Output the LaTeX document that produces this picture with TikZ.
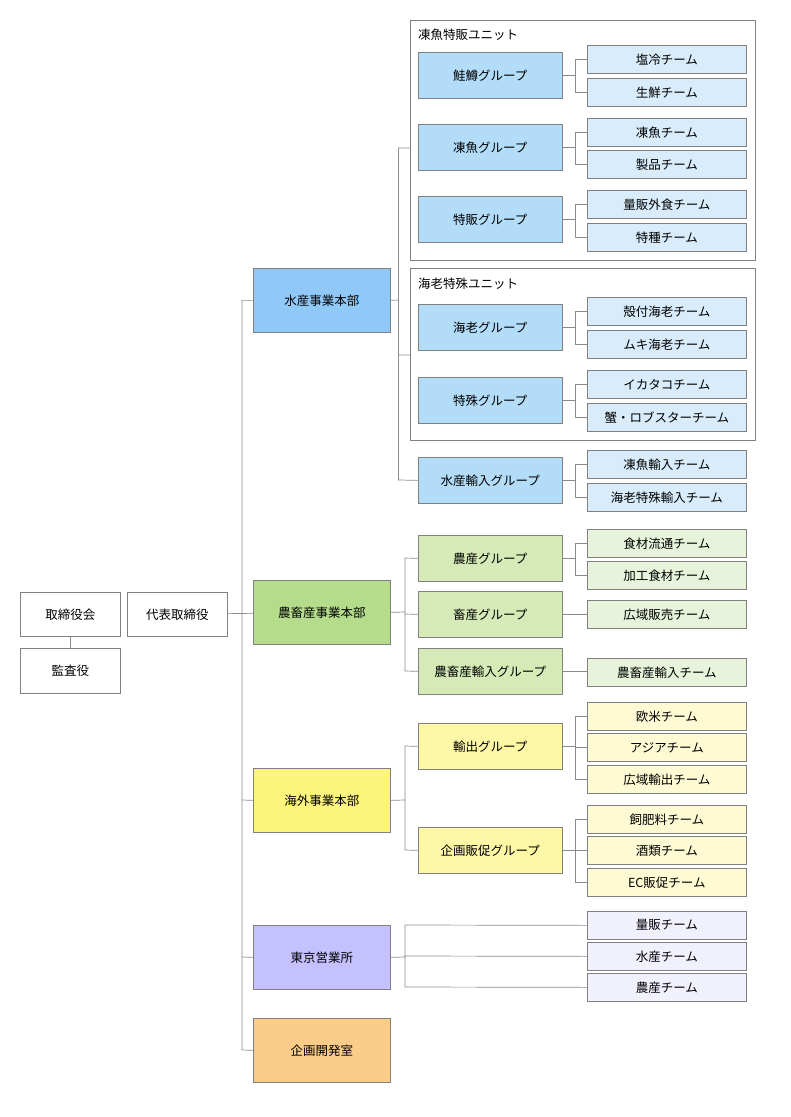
\documentclass[tikz,border=0pt]{standalone}
\usepackage{fontspec}
\setmainfont{Noto Sans CJK JP}
\begin{document}
\begin{tikzpicture}[x=1pt,y=-1pt,
 bx/.style={draw=black!50,line width=0.7pt,font=\fontsize{12.5}{14}\selectfont,inner sep=0pt},
 ln/.style={draw=black!45,line width=0.7pt}]
\definecolor{bD}{HTML}{90C9F8}\definecolor{bG}{HTML}{B3DCF8}\definecolor{bT}{HTML}{D8ECFB}
\definecolor{gD}{HTML}{B5DC8A}\definecolor{gG}{HTML}{D5EAB6}\definecolor{gT}{HTML}{E7F3DA}
\definecolor{yD}{HTML}{FCF47C}\definecolor{yG}{HTML}{FDF7A6}\definecolor{yT}{HTML}{FEFBD4}
\definecolor{lD}{HTML}{C5C0FF}\definecolor{lT}{HTML}{F1F1FE}\definecolor{oD}{HTML}{FCCD88}
\useasboundingbox[fill=white] (0,0) rectangle (791,1117);
\newcommand\bx[6]{\node[bx,fill=#6,minimum width=#3-#2,minimum height=#5-#4,anchor=north west] (#1) at (#2,#4) {\strut};
 }
% top
\node[bx,fill=white,minimum width=100,minimum height=44,anchor=north west] (board) at (20,592) {取締役会};
\node[bx,fill=white,minimum width=100,minimum height=45,anchor=north west] (audit) at (20,648) {監査役};
\node[bx,fill=white,minimum width=100,minimum height=44,anchor=north west] (ceo) at (127,592) {代表取締役};
\draw[ln] (board) -- (audit);
% unit frames
\node[draw=black!50,line width=0.7pt,minimum width=345,minimum height=240,anchor=north west] (u1) at (410,20) {};
\node[anchor=north west,font=\fontsize{12.5}{14}\selectfont,inner sep=0pt] (u1l) at (418,29) {凍魚特販ユニット};
\node[draw=black!50,line width=0.7pt,minimum width=345,minimum height=172,anchor=north west] (u2) at (410,268) {};
\node[anchor=north west,font=\fontsize{12.5}{14}\selectfont,inner sep=0pt] (u2l) at (418,278) {海老特殊ユニット};
% divisions
\foreach \n/\t/\y/\c in {d1/水産事業本部/268/bD,d2/農畜産事業本部/580/gD,d3/海外事業本部/768/yD,d4/東京営業所/925/lD,d5/企画開発室/1018/oD}
 \node[bx,fill=\c,minimum width=137,minimum height=64,anchor=north west] (\n) at (253,\y) {\t};
\draw[ln] (ceo) -- (d2);
\draw[ln] (d1.west) -| (242,1050) -- (d5.west);
\draw[ln] (d3.west) -- (242,800) (d4.west) -- (242,957);
% groups
\foreach \n/\t/\y/\c in {g1/鮭鱒グループ/52/bG,g2/凍魚グループ/124/bG,g3/特販グループ/196/bG,g4/海老グループ/304/bG,g5/特殊グループ/377/bG,g6/水産輸入グループ/457/bG,
 g7/農産グループ/535/gG,g8/畜産グループ/591/gG,g9/農畜産輸入グループ/648/gG,g10/輸出グループ/723/yG,g11/企画販促グループ/827/yG}
 \node[bx,fill=\c,minimum width=144,minimum height=46,anchor=north west] (\n) at (418,\y) {\t};
% teams
\foreach \n/\t/\y/\c in {t1/塩冷チーム/45/bT,t2/生鮮チーム/78/bT,t3/凍魚チーム/118/bT,t4/製品チーム/150/bT,t5/量販外食チーム/190/bT,t6/特種チーム/223/bT,
 t7/殻付海老チーム/297/bT,t8/ムキ海老チーム/330/bT,t9/イカタコチーム/370/bT,t10/蟹・ロブスターチーム/403/bT,t11/凍魚輸入チーム/450/bT,t12/海老特殊輸入チーム/483/bT,
 t13/食材流通チーム/529/gT,t14/加工食材チーム/561/gT,t15/広域販売チーム/600/gT,t16/農畜産輸入チーム/658/gT,
 t17/欧米チーム/702/yT,t18/アジアチーム/733/yT,t19/広域輸出チーム/765/yT,t20/飼肥料チーム/805/yT,t21/酒類チーム/836/yT,t22/EC販促チーム/868/yT,
 t23/量販チーム/911/lT,t24/水産チーム/942/lT,t25/農産チーム/973/lT}
 \node[bx,fill=\c,minimum width=159,minimum height=28,anchor=north west] (\n) at (587,\y) {\t};
% division->groups
\draw[ln] (d1.east) -- (398,300);
\draw[ln] (398,148) -- (398,480);
\draw[ln] (398,148) -- (u1.west |- 0,148) (398,355) -- (u2.west |- 0,355) (398,480) -- (g6.west);
\draw[ln] (d2.east) -- (405,612) (405,558) -- (405,671) (405,558) -- (g7.west) (405,614) -- (g8.west) (405,671) -- (g9.west);
\draw[ln] (d3.east) -- (405,800) (405,746) -- (405,850) (405,746) -- (g10.west) (405,850) -- (g11.west);
\draw[ln] (d4.east) -- (405,957) (405,925) -- (405,987) (405,925) -- (t23.west) (405,956) -- (t24.west) (405,987) -- (t25.west);
% groups->teams
\foreach \g/\a/\b in {g1/t1/t2,g2/t3/t4,g3/t5/t6,g4/t7/t8,g5/t9/t10,g6/t11/t12,g7/t13/t14}
 \draw[ln] (\g.east) -- (575,0 |- \g.east) (575,0 |- \a.west) -- (\a.west) (575,0 |- \a.west) -- (575,0 |- \b.west) -- (\b.west);
\draw[ln] (g8.east) -- (t15.west |- g8.east);
\draw[ln] (g9.east) -- (t16.west |- g9.east);
\draw[ln] (g10.east) -- (575,0 |- g10.east) (575,0 |- t17.west) -- (t17.west) (575,0 |- t17.west) -- (575,0 |- t19.west) -- (t19.west) (575,0 |- t18.west) -- (t18.west);
\draw[ln] (g11.east) -- (575,0 |- g11.east) (575,0 |- t20.west) -- (t20.west) (575,0 |- t20.west) -- (575,0 |- t22.west) -- (t22.west) (575,0 |- t21.west) -- (t21.west);
\end{tikzpicture}
\end{document}
